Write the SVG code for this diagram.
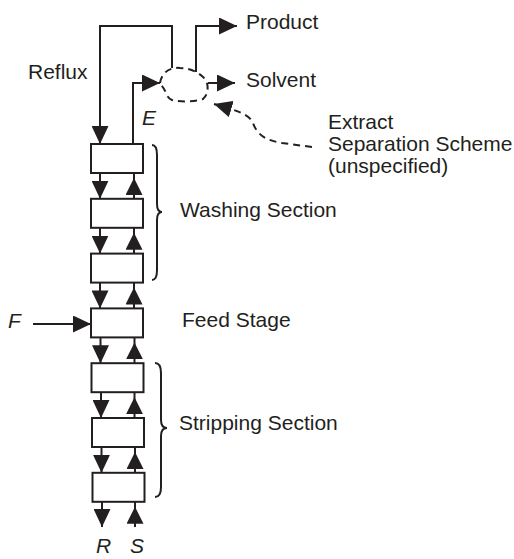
<svg xmlns="http://www.w3.org/2000/svg" width="514" height="559" viewBox="0 0 514 559">
<style>
.ln{fill:none;stroke:#231f20;stroke-width:2}
.dash{fill:none;stroke:#231f20;stroke-width:2;stroke-dasharray:7 5}
.box{fill:#fff;stroke:#231f20;stroke-width:2}
.t{font-family:"Liberation Sans",Arial,sans-serif;font-size:21px;fill:#231f20}
.i{font-style:italic}
.ah{fill:#231f20}
</style>
<defs>
<marker id="arr" markerUnits="userSpaceOnUse" markerWidth="18" markerHeight="17" viewBox="0 0 18 17" refX="18" refY="8.5" orient="auto">
<path d="M0,0 L18,8.5 L0,17 Z" class="ah"/>
</marker>
<marker id="arrUp" markerUnits="userSpaceOnUse" markerWidth="22" markerHeight="17" viewBox="0 0 22 17" refX="22" refY="8.5" orient="auto">
<path d="M0,0 L17,8.5 L0,17 Z" class="ah"/>
</marker>
</defs>
<rect width="514" height="559" fill="#fff"/>
<g id="connectors">
<path class="ln" d="M172,68 L172,26 L100,26 L100,144" marker-end="url(#arr)"/>
<path class="ln" d="M196,72 L196,26 L237,26" marker-end="url(#arr)"/>
<path class="ln" d="M133,144 L133,83 L160,83" marker-end="url(#arr)"/>
<path class="ln" d="M208,83 L235,83" marker-end="url(#arr)"/>
<path class="ln" d="M33,324 L91,324" marker-end="url(#arr)"/>
<path class="ln" d="M100,173 L100,198.8" marker-end="url(#arr)"/>
<path class="ln" d="M100,227.8 L100,253.6" marker-end="url(#arr)"/>
<path class="ln" d="M100,282.6 L100,308.4" marker-end="url(#arr)"/>
<path class="ln" d="M100.5,337.4 L100.5,363.2" marker-end="url(#arr)"/>
<path class="ln" d="M101,392.2 L101,418" marker-end="url(#arr)"/>
<path class="ln" d="M101.5,447 L101.5,472.8" marker-end="url(#arr)"/>
<path class="ln" d="M102,501.8 L102,527" marker-end="url(#arr)"/>
<path class="ln" d="M134,198.8 L134,173" marker-end="url(#arrUp)"/>
<path class="ln" d="M134,253.6 L134,227.8" marker-end="url(#arrUp)"/>
<path class="ln" d="M134,308.4 L134,282.6" marker-end="url(#arrUp)"/>
<path class="ln" d="M134.5,363.2 L134.5,337.4" marker-end="url(#arrUp)"/>
<path class="ln" d="M134.5,418 L134.5,392.2" marker-end="url(#arrUp)"/>
<path class="ln" d="M135,472.8 L135,447" marker-end="url(#arrUp)"/>
<path class="ln" d="M135,527 L135,501.8" marker-end="url(#arrUp)"/>
<path class="dash" d="M160,83 C162,72 170,67 180,68 C191,68 200,73 206,80 C209,87 208,95 203,99 C195,102 181,102 172,100 C165,97 167,90 160,84"/>
<path class="dash" d="M312,147 L282,143 C264,140 257,134 253,123 C249,114 238,111 214,104" marker-end="url(#arr)"/>
<path class="ln" d="M152,145 Q157,145 157,155 L157,204 Q157,212 162,212 Q157,212 157,220 L157,270 Q157,280 152,280"/>
<path class="ln" d="M155,363 Q161,363 161,373 L161,420 Q161,428 167,428 Q161,428 161,436 L161,487 Q161,497 155,497"/>
</g>
<g id="stage1"><rect class="box" x="91" y="144" width="52" height="29"/></g>
<g id="stage2"><rect class="box" x="91" y="198.8" width="52" height="29"/></g>
<g id="stage3"><rect class="box" x="91" y="253.6" width="52" height="29"/></g>
<g id="stage4"><rect class="box" x="91" y="308.4" width="52" height="29"/></g>
<g id="stage5"><rect class="box" x="91.5" y="363.2" width="52" height="29"/></g>
<g id="stage6"><rect class="box" x="92" y="418" width="52" height="29"/></g>
<g id="stage7"><rect class="box" x="92.5" y="472.8" width="52" height="29"/></g>
<g id="labels">
<text class="t" x="28" y="79">Reflux</text>
<text class="t" x="246" y="29">Product</text>
<text class="t" x="246" y="87">Solvent</text>
<text class="t i" x="142" y="125">E</text>
<text class="t" x="328" y="129">Extract</text>
<text class="t" x="328" y="151">Separation Scheme</text>
<text class="t" x="328" y="173">(unspecified)</text>
<text class="t" x="180" y="217">Washing Section</text>
<text class="t" x="182" y="327">Feed Stage</text>
<text class="t" x="179" y="430">Stripping Section</text>
<text class="t i" x="8" y="328">F</text>
<text class="t i" x="96" y="553">R</text>
<text class="t i" x="130" y="553">S</text>
</g>
</svg>
